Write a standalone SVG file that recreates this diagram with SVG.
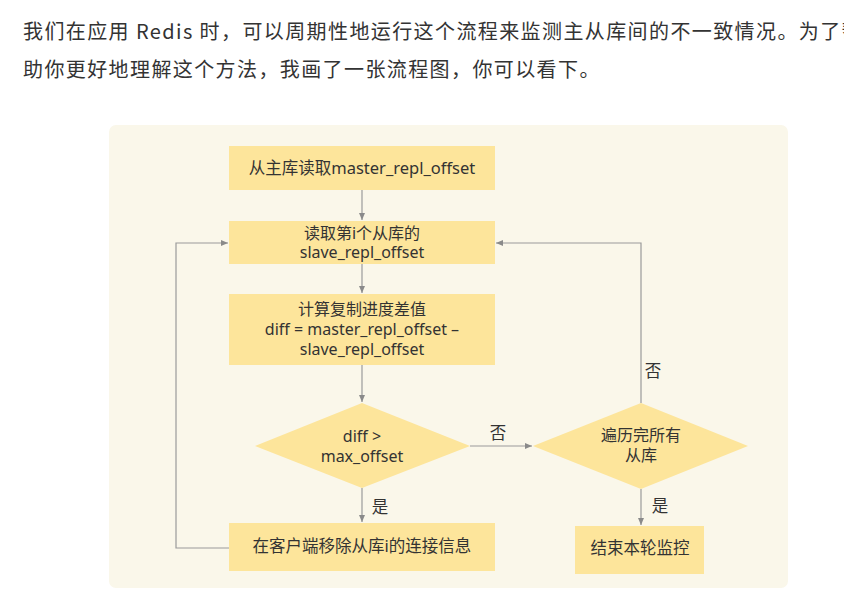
<svg xmlns="http://www.w3.org/2000/svg" width="844" height="599" viewBox="0 0 844 599">
<defs>
<style>
.para{font-family:"Noto Sans CJK SC","Noto Sans",sans-serif;font-size:20px;fill:#333;letter-spacing:1.4px}
.t{font-family:"Noto Sans","Noto Sans CJK SC",sans-serif;font-size:16px;fill:#333;text-anchor:middle}
.lbl{font-family:"Noto Sans CJK SC",sans-serif;font-size:16.5px;fill:#333;text-anchor:middle}
.box{fill:#FDE59B}
.ln{fill:none;stroke:#9a9a9a;stroke-width:1.2}
</style>
<marker id="ah" markerWidth="8" markerHeight="8" refX="7" refY="4" orient="auto" markerUnits="userSpaceOnUse">
<path d="M0,1 L7,4 L0,7 z" fill="#8a8a8a"/>
</marker>
</defs>
<rect width="844" height="599" fill="#ffffff"/>
<text class="para" x="23" y="38.5">我们在应用 Redis 时，可以周期性地运行这个流程来监测主从库间的不一致情况。为了帮</text>
<text class="para" x="23" y="77">助你更好地理解这个方法，我画了一张流程图，你可以看下。</text>
<rect x="109" y="125" width="679" height="463" rx="7" fill="#FAF7EA"/>
<g id="connectors">
<path class="ln" d="M362,190 V220" marker-end="url(#ah)"/>
<path class="ln" d="M362,264 V293" marker-end="url(#ah)"/>
<path class="ln" d="M362,365 V402" marker-end="url(#ah)"/>
<path class="ln" d="M362,488 V522" marker-end="url(#ah)"/>
<path class="ln" d="M229,548 H176 V243 H228" marker-end="url(#ah)"/>
<path class="ln" d="M470,446 H532" marker-end="url(#ah)"/>
<path class="ln" d="M641,403 V243 H496" marker-end="url(#ah)"/>
<path class="ln" d="M641,489 V525" marker-end="url(#ah)"/>
<text class="lbl" x="498" y="439">否</text>
<text class="lbl" x="653" y="377">否</text>
<text class="lbl" x="380" y="513">是</text>
<text class="lbl" x="660" y="512">是</text>
</g>
<g id="n1">
<rect class="box" x="229" y="146" width="266" height="44"/>
<text class="t" x="362" y="174" style="font-size:16.5px">从主库读取master_repl_offset</text>
</g>
<g id="n2">
<rect class="box" x="229" y="221" width="266" height="43"/>
<text class="t" x="362" y="239">读取第i个从库的</text>
<text class="t" x="362" y="258">slave_repl_offset</text>
</g>
<g id="n3">
<rect class="box" x="229" y="294" width="266" height="71"/>
<text class="t" x="362" y="315">计算复制进度差值</text>
<text class="t" x="362" y="335">diff = master_repl_offset –</text>
<text class="t" x="362" y="355">slave_repl_offset</text>
</g>
<g id="n4">
<polygon class="box" points="362,403 470,446 362,488 255,446"/>
<text class="t" x="362" y="442">diff &gt;</text>
<text class="t" x="362" y="462">max_offset</text>
</g>
<g id="n5">
<rect class="box" x="229" y="523" width="266" height="48"/>
<text class="t" x="362" y="552" style="font-size:16.5px">在客户端移除从库i的连接信息</text>
</g>
<g id="n6">
<polygon class="box" points="641,403 748,446 641,489 533,446"/>
<text class="t" x="641" y="441">遍历完所有</text>
<text class="t" x="641" y="461">从库</text>
</g>
<g id="n7">
<rect class="box" x="575" y="526" width="129" height="48"/>
<text class="t" x="640" y="554" style="font-size:16.5px">结束本轮监控</text>
</g>
</svg>
